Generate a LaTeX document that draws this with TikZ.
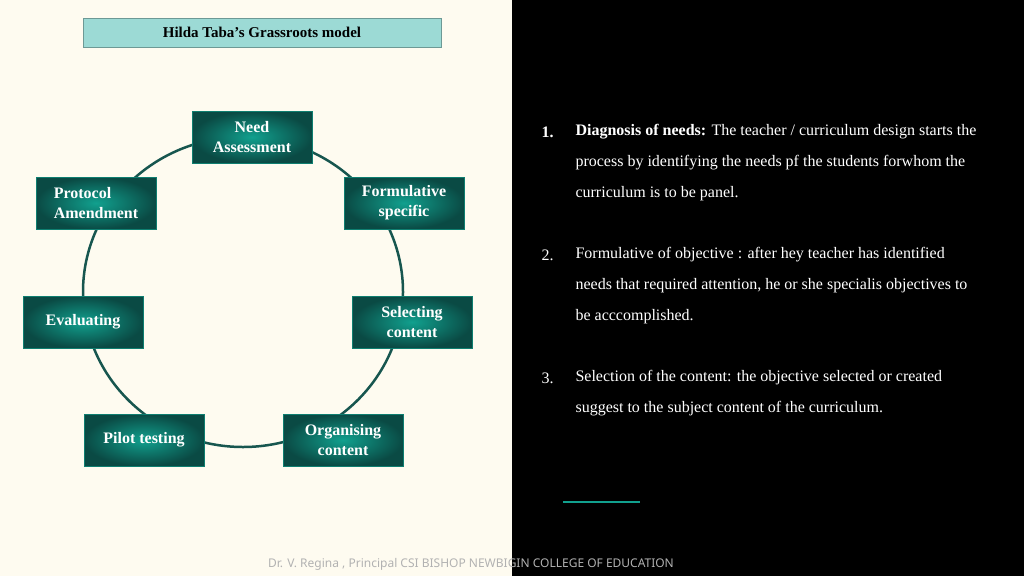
\documentclass[tikz,border=0pt]{standalone}
\usepackage{fontspec}
\setmainfont{Liberation Serif}
\newfontfamily\footfont{Noto Sans}
\definecolor{bg}{HTML}{FEFBF0}
\definecolor{tdark}{HTML}{0A4A44}
\definecolor{tmid}{HTML}{11A08E}
\definecolor{ring}{HTML}{17564F}
\definecolor{ttl}{HTML}{9CDAD5}
\begin{document}
\begin{tikzpicture}[x=1pt,y=-1pt,
 stage/.style={draw=tmid!60!tdark,line width=0.6pt,inner color=tmid,outer color=tdark,minimum width=120pt,minimum height=52pt,align=center,text=white,font=\fontsize{16}{20}\selectfont\bfseries},
 rt/.style={anchor=west,text=white,font=\fontsize{16}{20}\selectfont}]
\useasboundingbox (0,0) rectangle (1024,576);
\fill[bg] (0,0) rectangle (512,576);
\fill[black] (512,0) rectangle (1024,576);
\node[draw=ttl!70!black,fill=ttl,line width=0.5pt,minimum width=358pt,minimum height=29pt,font=\fontsize{15}{18}\selectfont\bfseries] (title) at (262,32.5) {Hilda Taba's Grassroots model};
\draw[ring,line width=2.5pt] (243,292) ellipse [x radius=160,y radius=155];
\node[stage] (n1) at (252,137) {Need\\Assessment};
\node[stage] (n2) at (404,203) {Formulative\\specific};
\node[stage] (n3) at (412,322) {Selecting\\content};
\node[stage] (n4) at (343,440) {Organising\\content};
\node[stage] (n5) at (144,440) {Pilot testing};
\node[stage] (n6) at (83,322) {Evaluating};
\node[stage,align=left] (n7) at (96,203) {Protocol\\Amendment};
\node[rt] (a1) at (538,132) {\textbf{1.}};
\node[rt] (b1) at (572,132) {\textbf{Diagnosis of needs:} The teacher / curriculum design starts the};
\node[rt] (b1b) at (572,163) {process by identifying the needs pf the students forwhom the};
\node[rt] (b1c) at (572,194) {curriculum is to be panel.};
\node[rt] (a2) at (538,255) {2.};
\node[rt] (b2) at (572,255) {Formulative of objective : after hey teacher has identified};
\node[rt] (b2b) at (572,286) {needs that required attention, he or she specialis objectives to};
\node[rt] (b2c) at (572,317) {be acccomplished.};
\node[rt] (a3) at (538,378) {3.};
\node[rt] (b3) at (572,378) {Selection of the content: the objective selected or created};
\node[rt] (b3b) at (572,409) {suggest to the subject content of the curriculum.};
\coordinate (l1) at (563,502); \coordinate (l2) at (640,502);
\draw[tmid,line width=1.5pt] (l1) -- (l2);
\node[text=black!30,font=\footfont\fontsize{12}{14}\selectfont] (foot) at (471,564) {Dr. V. Regina , Principal CSI BISHOP NEWBIGIN COLLEGE OF EDUCATION};
\end{tikzpicture}
\end{document}
